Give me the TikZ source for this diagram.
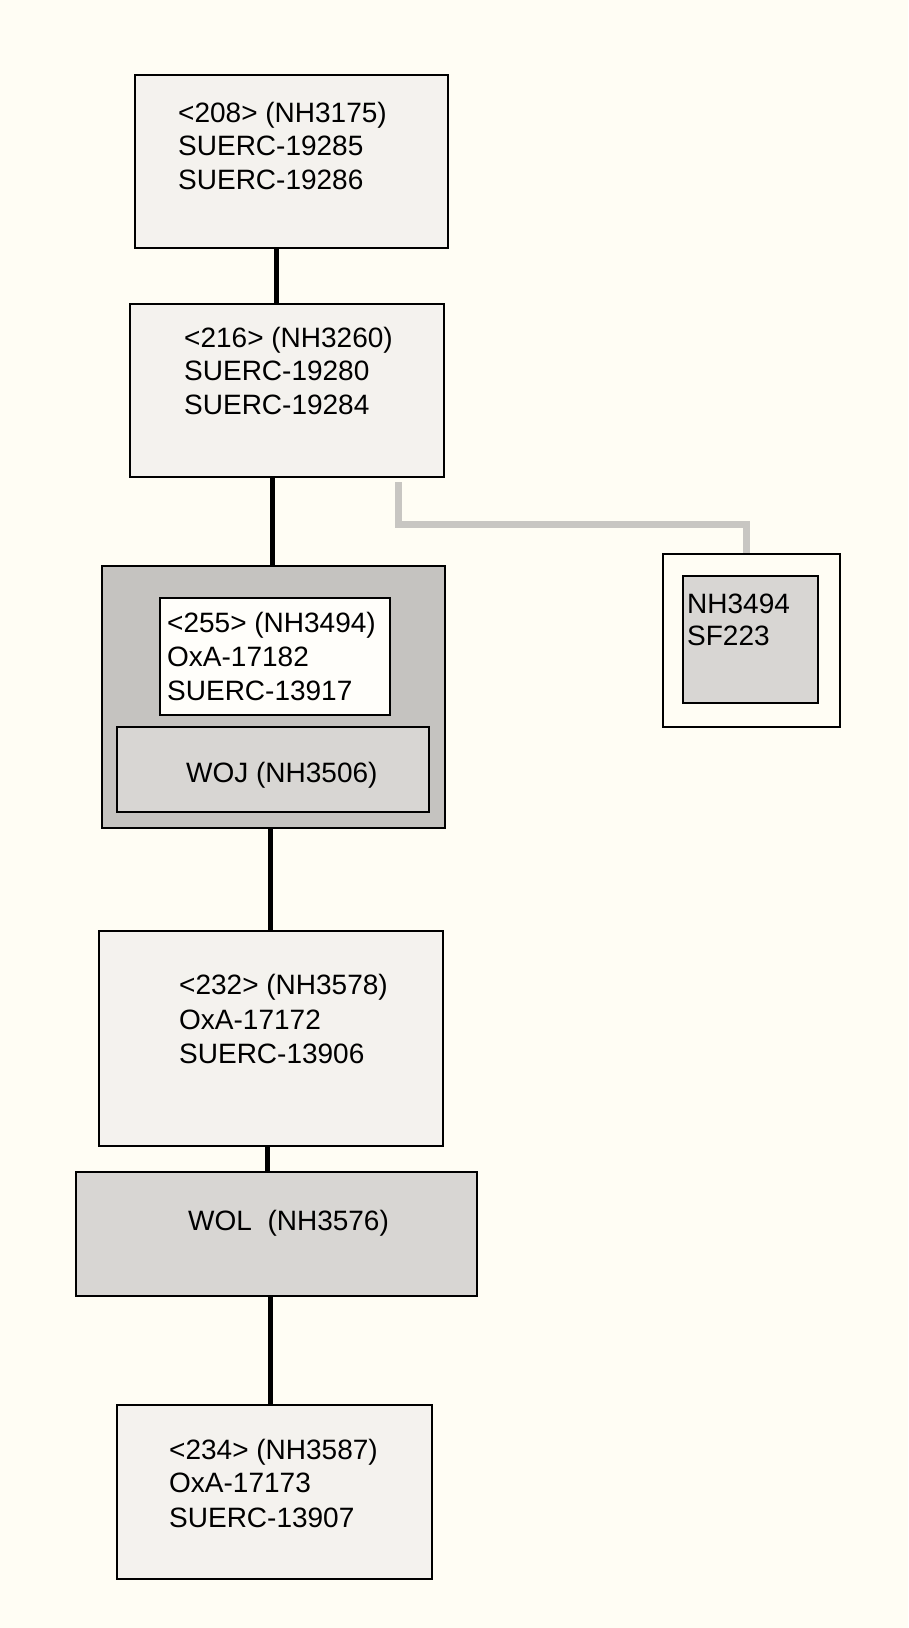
\documentclass[tikz,border=0pt]{standalone}
\usepackage{fontspec}
\setmainfont{Liberation Sans}
\definecolor{bgc}{HTML}{FFFDF4}
\definecolor{lightfill}{HTML}{F4F2EE}
\definecolor{midfill}{HTML}{D8D6D3}
\definecolor{darkfill}{HTML}{C5C3C0}
\definecolor{whitefill}{HTML}{FFFEFA}
\definecolor{glinec}{HTML}{C8C6C2}
\begin{document}
\begin{tikzpicture}[x=1pt,y=-1pt,
  boxbase/.style={draw=black,line width=2pt,rectangle,inner sep=0pt},
  lbox/.style={boxbase,fill=lightfill},
  mbox/.style={boxbase,fill=midfill},
  dbox/.style={boxbase,fill=darkfill},
  wbox/.style={boxbase,fill=whitefill},
  cbox/.style={boxbase,fill=bgc},
  txt/.style={anchor=base west,inner sep=0pt,font=\fontsize{28}{33}\selectfont},
  conn/.style={line width=5pt,black},
  gline/.style={line width=7pt,glinec,line join=miter}]
\fill[bgc] (0,0) rectangle (908,1628);
\useasboundingbox (0,0) rectangle (908,1628);

% boxes
\node[lbox,minimum width=313pt,minimum height=173pt] (b1) at (291.5,161.5) {};
\node[lbox,minimum width=314pt,minimum height=173pt] (b2) at (287,390.5) {};
\node[dbox,minimum width=343pt,minimum height=262pt] (b3) at (273.5,697) {};
\node[wbox,minimum width=230pt,minimum height=117pt] (b3i) at (275,656.5) {};
\node[mbox,minimum width=312pt,minimum height=85pt] (woj) at (273,769.5) {};
\node[lbox,minimum width=344pt,minimum height=215pt] (b4) at (271,1038.5) {};
\node[mbox,minimum width=401pt,minimum height=124pt] (wol) at (276.5,1234) {};
\node[lbox,minimum width=315pt,minimum height=174pt] (b6) at (274.5,1492) {};
\node[cbox,minimum width=177pt,minimum height=173pt] (sfo) at (751.5,640.5) {};
\node[mbox,minimum width=135pt,minimum height=127pt] (sfi) at (750.5,639.5) {};

% texts
\node[txt] (t1a) at (178,122) {<208> (NH3175)};
\node[txt] (t1b) at (178,155) {SUERC-19285};
\node[txt] (t1c) at (178,189) {SUERC-19286};
\node[txt] (t2a) at (184,347) {<216> (NH3260)};
\node[txt] (t2b) at (184,380) {SUERC-19280};
\node[txt] (t2c) at (184,414) {SUERC-19284};
\node[txt] (t3a) at (167,632) {<255> (NH3494)};
\node[txt] (t3b) at (167,666) {OxA-17182};
\node[txt] (t3c) at (167,700) {SUERC-13917};
\node[txt] (twoj) at (186,782) {WOJ (NH3506)};
\node[txt] (t4a) at (179,994) {<232> (NH3578)};
\node[txt] (t4b) at (179,1029) {OxA-17172};
\node[txt] (t4c) at (179,1063) {SUERC-13906};
\node[txt] (twol) at (188,1230) {WOL\ \ (NH3576)};
\node[txt] (t6a) at (169,1459) {<234> (NH3587)};
\node[txt] (t6b) at (169,1492) {OxA-17173};
\node[txt] (t6c) at (169,1527) {SUERC-13907};
\node[txt] (tsfa) at (687,613) {NH3494};
\node[txt] (tsfb) at (687,645) {SF223};

% connector x positions
\coordinate (x1) at (276,0);
\coordinate (x2) at (272,0);
\coordinate (x3) at (270,0);
\coordinate (x4) at (267,0);
\coordinate (x5) at (270,0);
\coordinate (g1) at (398,524);
\coordinate (g2) at (746,0);

\draw[conn] (b1.south -| x1) -- (b2.north -| x1);
\draw[conn] (b2.south -| x2) -- (b3.north -| x2);
\draw[conn] (b3.south -| x3) -- (b4.north -| x3);
\draw[conn] (b4.south -| x4) -- (wol.north -| x4);
\draw[conn] (wol.south -| x5) -- (b6.north -| x5);
\draw[gline] ([yshift=-4pt]b2.south -| g1) -- (g1) -| (sfo.north -| g2);
\end{tikzpicture}
\end{document}
